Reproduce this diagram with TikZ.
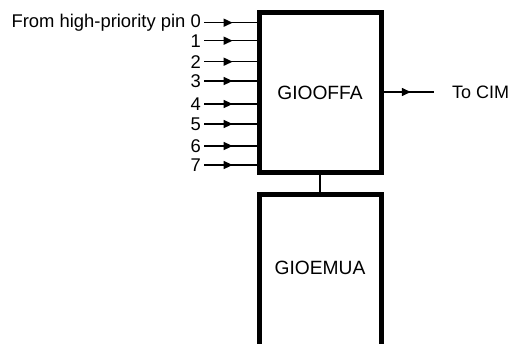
\documentclass[tikz,border=0pt]{standalone}
\usepackage{fontspec}
\setmainfont{Liberation Sans}
\usetikzlibrary{decorations.markings,arrows.meta}
\begin{document}
\begin{tikzpicture}[x=1pt,y=-1pt,
  lbl/.style={font=\fontsize{18.4}{21}\selectfont, inner sep=0pt},
  blk/.style={draw, line width=5pt, minimum width=122pt, minimum height=160pt, inner sep=0pt, font=\fontsize{19.2}{22}\selectfont},
  midarrow/.style={line width=1.5pt, postaction={decorate}, decoration={markings, mark=at position 0.54 with {\arrow{Triangle[length=9pt,width=8pt]}}}}
]
\useasboundingbox (0,0) rectangle (511,343);
\node[blk] (off) at (320,92.5) {GIOOFFA};
% bottom box (open at bottom)
\node[lbl, font=\fontsize{19.2}{22}\selectfont] (emu) at (320,268) {GIOEMUA};
\coordinate (emuTL) at (259,194.5);
\coordinate (emuTR) at (381,194.5);
\coordinate (emuBL) at (259,350);
\coordinate (emuBR) at (381,350);
\draw[line width=5pt] (emuBL) -- (emuTL) -- (emuTR) -- (emuBR);
\coordinate (emuTop) at (320,192);
\draw[line width=2pt] (off.south) -- (emuTop);
% inputs
\foreach \i/\y in {0/22.7,1/40.7,2/61.7,3/81,4/104,5/124,6/146,7/165}{
  \coordinate (s\i) at (204,\y);
  \coordinate (e\i) at (257,\y);
  \draw[midarrow] (s\i) -- (e\i);
}
\node[lbl, anchor=east] (l0) at (201,22.7) {From high-priority pin 0};
\node[lbl, anchor=east] (l1) at (201,40.7) {1};
\node[lbl, anchor=east] (l2) at (201,61.7) {2};
\node[lbl, anchor=east] (l3) at (201,81) {3};
\node[lbl, anchor=east] (l4) at (201,104) {4};
\node[lbl, anchor=east] (l5) at (201,124) {5};
\node[lbl, anchor=east] (l6) at (201,146) {6};
\node[lbl, anchor=east] (l7) at (201,165) {7};
% output
\coordinate (outEnd) at (434,92);
\draw[midarrow] (off.east |- outEnd) -- (outEnd);
\node[lbl, anchor=west, font=\fontsize{18}{21}\selectfont] (cim) at (452,92) {To CIM};
\end{tikzpicture}
\end{document}
